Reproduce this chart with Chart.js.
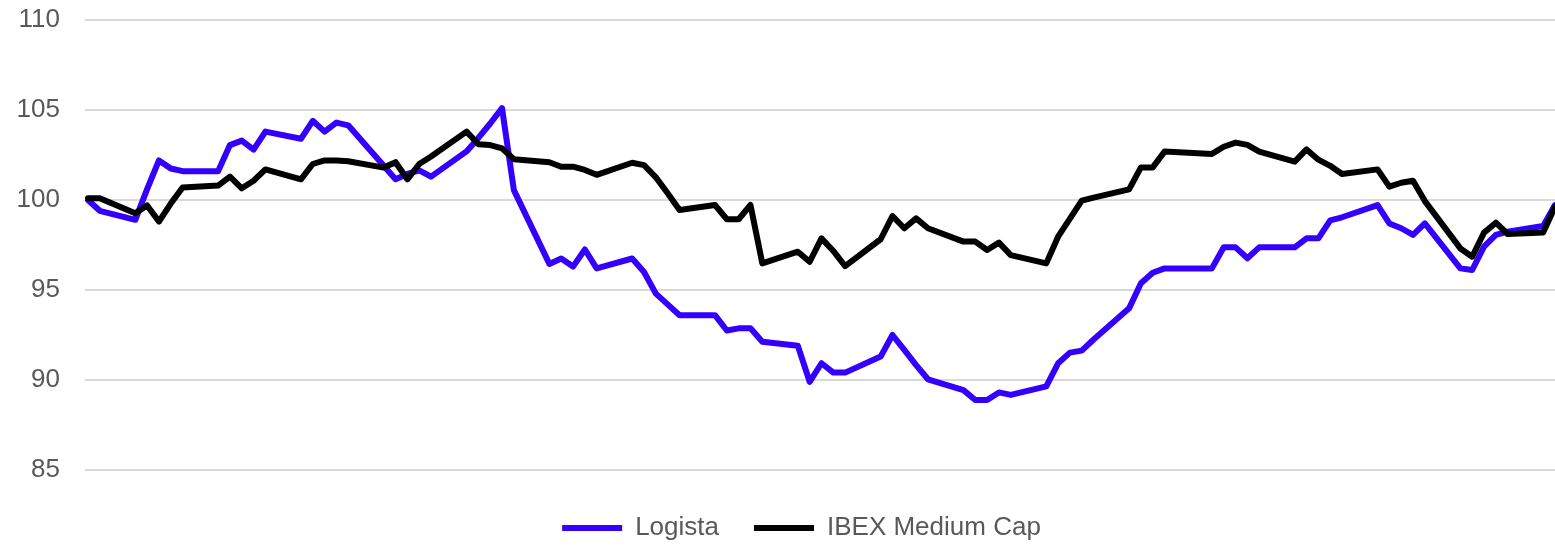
<!DOCTYPE html>
<html>
<head>
<meta charset="utf-8">
<script src="https://cdn.jsdelivr.net/npm/chart.js@4/dist/chart.umd.min.js"></script>
<style>
  body { margin: 0; background: #fff; }
  #wrap { width: 1555px; height: 545px; }
</style>
</head>
<body>
<div id="wrap"><canvas id="chart"></canvas></div>
<script>
// calendar day index of each trading session (weekends and one holiday skipped)
const days = [0, 1, 4, 5, 6, 7, 8, 11, 12, 13, 14, 15, 18, 19, 20, 21, 22, 25, 26, 27, 28, 29,
    32, 33, 34, 35, 36, 39, 40, 41, 42, 43, 46, 47, 48, 49, 50, 53, 54, 55, 56, 57,
    60, 61, 62, 63, 64, 67, 68, 69, 70, 71, 74, 75, 76, 77, 78, 81, 82, 83, 84, 85,
    88, 89, 90, 91, 95, 96, 97, 98, 99, 102, 103, 104, 105, 106, 109, 110, 111, 112, 113,
    116, 117, 118, 119, 120, 123, 124];

const logista = [100.0, 99.4, 98.9, 100.6, 102.2, 101.75, 101.6, 101.6, 103.05, 103.3, 102.8, 103.8,
    103.4, 104.4, 103.8, 104.3, 104.15, 101.9, 101.15, 101.45, 101.65, 101.3,
    102.7, 103.45, 104.25, 105.1, 100.55, 96.45, 96.75, 96.3, 97.25, 96.2,
    96.75, 96.0, 94.8, 94.2, 93.6, 93.6, 92.75, 92.87, 92.87, 92.13,
    91.9, 89.9, 90.93, 90.41, 90.41, 91.3, 92.5, 91.67, 90.83, 90.04,
    89.44, 88.89, 88.89, 89.31, 89.17, 89.65, 90.93, 91.52, 91.63, 92.25,
    93.98, 95.37, 95.96, 96.2, 96.2, 97.37, 97.37, 96.76, 97.37,
    97.37, 97.87, 97.87, 98.87, 99.04, 99.72, 98.7, 98.43, 98.06, 98.7,
    96.2, 96.11, 97.41, 98.06, 98.24, 98.56, 99.72];

const ibex = [100.1, 100.1, 99.26, 99.7, 98.8, 99.8, 100.7, 100.8, 101.3, 100.65, 101.07, 101.7,
    101.15, 102.0, 102.2, 102.2, 102.15, 101.8, 102.1, 101.15, 102.0, 102.42,
    103.8, 103.1, 103.05, 102.87, 102.26, 102.1, 101.85, 101.85, 101.67, 101.4,
    102.07, 101.94, 101.26, 100.37, 99.44, 99.72, 98.93, 98.93, 99.72, 96.48,
    97.13, 96.57, 97.87, 97.17, 96.33, 97.82, 99.11, 98.43, 98.98, 98.43,
    97.69, 97.69, 97.22, 97.63, 96.94, 96.48, 97.96, 98.96, 99.96, 100.13,
    100.59, 101.81, 101.81, 102.69, 102.56, 102.96, 103.19, 103.06, 102.69,
    102.13, 102.81, 102.24, 101.9, 101.44, 101.7, 100.74, 100.96, 101.07, 99.94,
    97.31, 96.85, 98.19, 98.74, 98.11, 98.19, 99.63];

const seriesNames = ['Logista', 'IBEX Medium Cap'];
const yTicks = [85, 90, 95, 100, 105, 110];

const toPoints = vals => vals.map((v, i) => ({ x: days[i], y: v }));

const font = { family: '"Liberation Sans", Arial, sans-serif', size: 26 };

// nudge the legend a little right, like the original sits under the plot area
const shiftLegend = {
    id: 'shiftLegend',
    afterLayout(chart) {
        chart.legend.left += 24;
        chart.legend.right += 24;
    }
};

new Chart(document.getElementById('chart'), {
    type: 'line',
    data: {
        datasets: [{
            label: seriesNames[0],
            data: toPoints(logista),
            borderColor: '#3300ff',
            backgroundColor: '#3300ff',
            borderWidth: 6,
            borderCapStyle: 'round',
            borderJoinStyle: 'round',
            order: 1
        }, {
            label: seriesNames[1],
            data: toPoints(ibex),
            borderColor: '#000000',
            backgroundColor: '#000000',
            borderWidth: 6,
            borderCapStyle: 'round',
            borderJoinStyle: 'round',
            order: 0
        }]
    },
    plugins: [shiftLegend],
    options: {
        responsive: true,
        maintainAspectRatio: false,
        animation: false,
        layout: { padding: { top: 20, right: 0, bottom: -6, left: 0 } },
        elements: {
            point: { radius: 0 },
            line: { tension: 0 }
        },
        scales: {
            x: {
                type: 'linear',
                display: false,
                min: -0.25,
                max: days[days.length - 1]
            },
            y: {
                min: yTicks[0],
                max: yTicks[yTicks.length - 1],
                afterBuildTicks: s => { s.ticks = yTicks.map(v => ({ value: v })); },
                afterFit: s => {
                    s.width = 85;
                    s.paddingTop = 0;
                    s.paddingBottom = 0;
                },
                border: { display: false },
                grid: { color: '#d9d9d9', lineWidth: 2, drawTicks: false },
                ticks: { color: '#595959', font: font, padding: 25 }
            }
        },
        plugins: {
            tooltip: { enabled: false },
            legend: {
                position: 'bottom',
                title: { display: true, text: ' ', font: { size: 5 }, padding: { top: 2, bottom: 2 } },
                labels: {
                    usePointStyle: true,
                    pointStyle: 'line',
                    pointStyleWidth: 60,
                    color: '#595959',
                    font: font,
                    padding: 35,
                    sort: (a, b) => a.datasetIndex - b.datasetIndex
                }
            }
        }
    }
});
</script>
</body>
</html>
